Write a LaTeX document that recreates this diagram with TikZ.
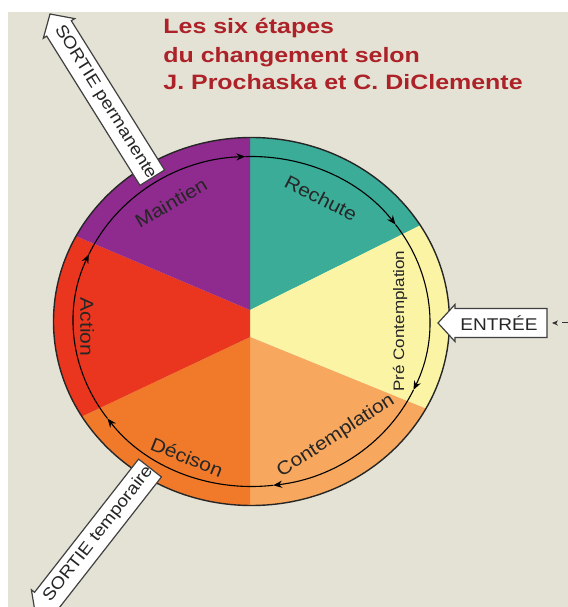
\documentclass[tikz,border=0pt]{standalone}
\usepackage{fontspec}
\newfontfamily\widesans[FakeStretch=1.12]{Liberation Sans}
\newfontfamily\titlesans[FakeStretch=1.2]{Liberation Sans}
\usetikzlibrary{arrows.meta}

\definecolor{bgbeige}{RGB}{228,226,212}
\definecolor{tealseg}{RGB}{58,172,152}
\definecolor{purpleseg}{RGB}{143,42,142}
\definecolor{redseg}{RGB}{234,54,30}
\definecolor{orangeseg}{RGB}{240,122,42}
\definecolor{peachseg}{RGB}{247,167,94}
\definecolor{yellowseg}{RGB}{250,244,164}
\definecolor{titlered}{RGB}{172,34,40}

\begin{document}
\begin{tikzpicture}[x=0.5pt,y=0.5pt,
	seglabel/.style={font=\widesans\fontsize{9.4}{11}\selectfont, text=black!85, inner sep=0pt},
	boxtext/.style={font=\widesans\fontsize{8.5}{10}\selectfont, text=black!85, inner sep=0pt},
	exitbox/.style={draw=black!75, fill=white, line width=0.6pt},
	cyclearc/.style={line width=0.55pt, -{Stealth[length=4.5pt,width=3.6pt]}},
	titleline/.style={font=\titlesans\bfseries\fontsize{10.4}{12}\selectfont, text=titlered, anchor=base west, inner sep=0pt}]

	\clip (0,0) rectangle (568,607);
	\fill[white] (0,0) rectangle (568,607);
	\fill[bgbeige] (8,0) rectangle (568,595);

	\coordinate (c) at (251.5,285.5);

	% the six stages
	\begin{scope}
		\clip (c) ellipse[x radius=198, y radius=184];
		\fill[tealseg] (250,297) -- (250,507) -- (500,507) -- (500,421.3) -- cycle;
		\fill[yellowseg] (250,297) -- (500,421.3) -- (500,168.2) -- (250,270) -- cycle;
		\fill[peachseg] (250,270) -- (500,168.2) -- (500,67) -- (250,67) -- cycle;
		\fill[orangeseg] (250,270) -- (250,67) -- (0,67) -- (0,151.8) -- cycle;
		\fill[redseg] (250,270) -- (0,151.8) -- (0,403.1) -- (250,297) -- cycle;
		\fill[purpleseg] (250,297) -- (0,403.1) -- (0,507) -- (250,507) -- cycle;
	\end{scope}
	\draw[black!85, line width=0.7pt] (c) ellipse[x radius=198, y radius=184];

	\foreach \a/\b in {216/156,156/92,92/36,36/-24.5,-24.5/-83,-83/-144}
		\draw[cyclearc] ([shift={(\a:178 and 165)}]c) arc[start angle=\a, end angle=\b, x radius=178, y radius=165];

	\node[seglabel, rotate=-27] (rechute) at (321,409) {Rechute};
	\node[seglabel, rotate=90, font=\widesans\fontsize{7.6}{9}\selectfont] (precontemplation) at (400,286) {Pré Contemplation};
	\node[seglabel, rotate=33] (contemplation) at (336,171) {Contemplation};
	\node[seglabel, rotate=-22] (decision) at (187,150) {Décison};
	\node[seglabel, rotate=-90] (action) at (87,280) {Action};
	\node[seglabel, rotate=30] (maintien) at (171,404) {Maintien};

	% entry and exits
	\begin{scope}[shift={(438,284)}]
		\draw[exitbox] (0,0) -- (17,18.5) -- (17,14.5) -- (109,14.5) -- (109,-14.5) -- (17,-14.5) -- (17,-18.5) -- cycle;
		\node[boxtext] (entree) at (61,0) {ENTRÉE};
	\end{scope}
	\coordinate (entreetail) at (568,284);
	\coordinate (entreehead) at (552,284);
	\draw[black!80, dashed, line width=0.5pt, -{Stealth[length=3pt,width=2.6pt]}] (entreetail) -- (entreehead);

	\begin{scope}[shift={(50,593)}, rotate=-58]
		\draw[exitbox] (0,0) -- (17,18.5) -- (17,14.5) -- (193,14.5) -- (193,-14.5) -- (17,-14.5) -- (17,-18.5) -- cycle;
		\node[boxtext, transform shape] (permanente) at (104,0) {SORTIE permanente};
	\end{scope}

	\begin{scope}[shift={(35.5,-7.6)}, rotate=52]
		\draw[exitbox] (0,0) -- (17,18.5) -- (17,14.5) -- (186,14.5) -- (186,-14.5) -- (17,-14.5) -- (17,-18.5) -- cycle;
		\node[boxtext, transform shape] (temporaire) at (102,0) {SORTIE temporaire};
	\end{scope}

	% title
	\node[titleline] (titleA) at (163,574) {Les six étapes};
	\node[titleline] (titleB) at (163,545) {du changement selon};
	\node[titleline] (titleC) at (163,517) {J. Prochaska et C. DiClemente};

\end{tikzpicture}
\end{document}
